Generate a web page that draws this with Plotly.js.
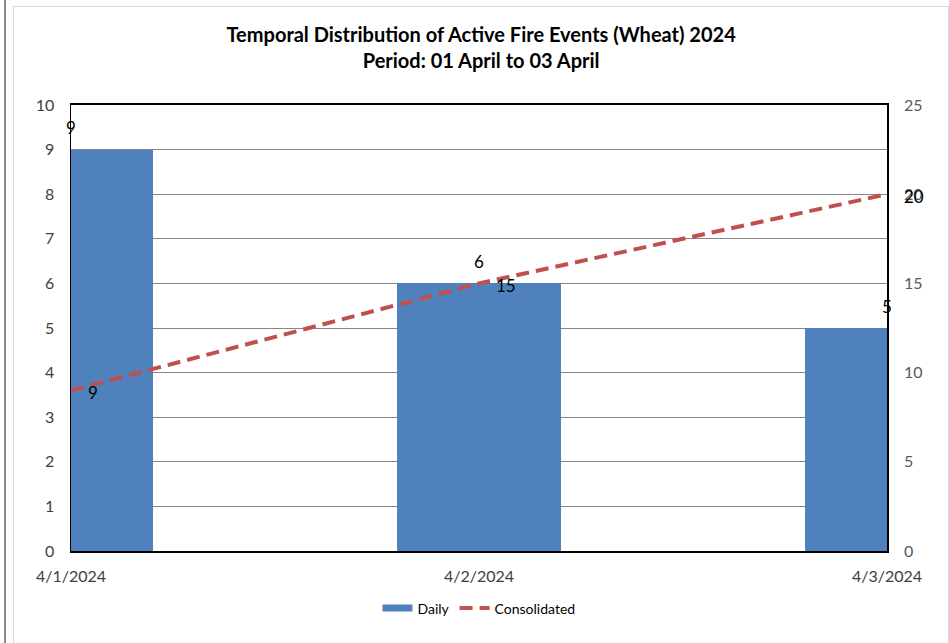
<!DOCTYPE html>
<html>
<head>
<meta charset="utf-8">
<script src="https://cdn.plot.ly/plotly-3.0.1.min.js"></script>
<style>
  html, body { margin: 0; padding: 0; background: #ffffff; }
  #wrap { position: relative; width: 949px; height: 643px; overflow: hidden; }
  #chart { position: absolute; left: 0; top: 0; width: 949px; height: 643px; }
  #leftline { position: absolute; left: 4px; top: 0; width: 2px; height: 643px; background: #8a8a8a; pointer-events: none; }
  #frame { position: absolute; left: 13px; top: 6px; width: 934px; height: 645px; border: 1px solid #d9d9d9; pointer-events: none; }
</style>
</head>
<body>
<div id="wrap">
  <div id="chart"></div>
  <div id="leftline"></div>
  <div id="frame"></div>
</div>
<script>
// Data
const dates = ['2024-04-01', '2024-04-02', '2024-04-03'];
const tickLabels = ['4/1/2024', '4/2/2024', '4/3/2024'];
const daily = [9, 6, 5];
const consolidated = [9, 15, 20];

const FONT = 'Lato, "Open Sans", sans-serif';
const blue = '#4F81BD';
const red = '#C0504D';
const dayMs = 86400000;

const traces = [
  {
    type: 'bar', x: dates, y: daily, name: 'Daily', showlegend: false,
    marker: { color: blue, line: { width: 0 } },
    width: dates.map(() => 0.4 * dayMs),
    hoverinfo: 'x+y'
  },
  {
    type: 'scatter', mode: 'lines', x: [null], y: [null], name: 'Daily',
    line: { color: blue, width: 7 }, hoverinfo: 'skip'
  },
  {
    type: 'scatter', mode: 'lines', x: dates, y: consolidated, yaxis: 'y2',
    name: 'Consolidated',
    line: { color: red, width: 4, dash: '13px,7px' }
  }
];

const labelFont = { family: FONT, size: 17, color: '#000000' };
const annotations = [];
dates.forEach((d, i) => {
  annotations.push({
    x: d, y: daily[i], xref: 'x', yref: 'y', text: String(daily[i]),
    showarrow: false, xanchor: 'center', yanchor: 'middle', yshift: 22,
    font: labelFont
  });
  annotations.push({
    x: d, y: consolidated[i], xref: 'x', yref: 'y2', text: String(consolidated[i]),
    showarrow: false, xanchor: 'left', yanchor: 'middle', xshift: 15, yshift: -2,
    font: labelFont
  });
});

const layout = {
  width: 949, height: 643,
  paper_bgcolor: 'rgba(0,0,0,0)', plot_bgcolor: '#ffffff',
  margin: { l: 71, r: 62, t: 105, b: 92 },
  font: { family: FONT, color: '#404040' },
  title: {
    text: '<b>Temporal Distribution of Active Fire Events (Wheat) 2024</b><br><b>Period: 01 April to 03 April</b>',
    font: { family: FONT, size: 20, color: '#000000' },
    x: 0.507, xanchor: 'center', y: 0.934, yanchor: 'top'
  },
  xaxis: {
    type: 'date', range: [dates[0], dates[2]],
    tickmode: 'array', tickvals: dates, ticktext: tickLabels,
    showgrid: false, zeroline: false,
    showline: true, linecolor: '#000000', linewidth: 2, mirror: true,
    ticks: '', ticklabelstandoff: 10,
    tickfont: { family: FONT, size: 16, color: '#404040' }
  },
  yaxis: {
    range: [0, 10], dtick: 1, tick0: 0,
    showgrid: true, gridcolor: '#878787', gridwidth: 1,
    zeroline: false, showline: true, linecolor: '#000000', linewidth: 1.5, mirror: true,
    ticks: '', ticklabelstandoff: 12,
    tickfont: { family: FONT, size: 16, color: '#404040' }
  },
  yaxis2: {
    overlaying: 'y', side: 'right', range: [0, 25], dtick: 5, tick0: 0,
    showgrid: false, zeroline: false, showline: false,
    ticks: '', ticklabelstandoff: 16,
    tickfont: { family: FONT, size: 16, color: '#595959' }
  },
  legend: {
    orientation: 'h', x: 0.5, xanchor: 'center', y: -0.093, yanchor: 'top',
    font: { family: FONT, size: 14, color: '#000000' },
    bgcolor: 'rgba(0,0,0,0)'
  },
  annotations: annotations,
  bargap: 0, showlegend: true
};

Plotly.newPlot('chart', traces, layout, { displayModeBar: false, staticPlot: true });
</script>
</body>
</html>
